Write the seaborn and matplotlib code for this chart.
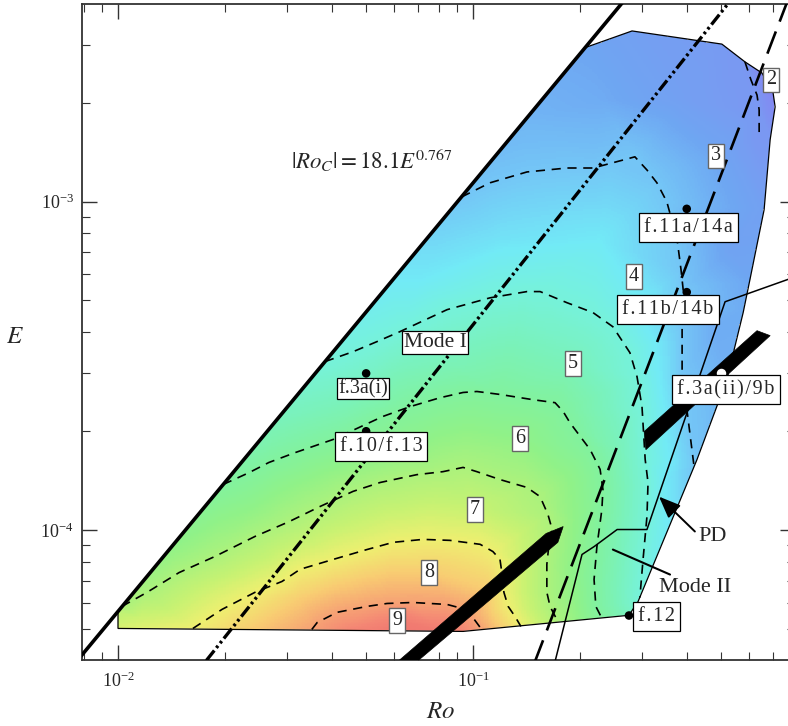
import numpy as np
import matplotlib
matplotlib.use("Agg")
import matplotlib.pyplot as plt
import matplotlib.tri as mtri
from matplotlib.patches import Polygon
from matplotlib.colors import LinearSegmentedColormap, Normalize
import seaborn as sns

# ------------------------------------------------------------------
# DATA -- stored as log10(Ro), log10(E)
# ------------------------------------------------------------------
# outline of the explored region, with the field value at each vertex
boundary_log_ro = [-2.000, -2.000, -0.685, -0.552, -0.299, -0.234, -0.186, -0.155, -0.149,
                   -0.163, -0.180, -0.220, -0.239, -0.285, -0.369, -0.535, -0.561, -1.028]
boundary_log_e = [-4.299, -4.247, -2.532, -2.481, -2.521, -2.575, -2.609, -2.667, -2.712,
                  -2.812, -3.025, -3.238, -3.338, -3.542, -3.785, -4.217, -4.259, -4.308]
boundary_value = [7.2, 6.8, 3.0, 2.8, 2.6, 2.5, 2.1, 2.0, 2.1,
                  2.5, 2.8, 3.0, 3.1, 3.2, 3.45, 4.55, 4.9, 9.0]

# dashed iso-lines (level between the numbered regions)
c23_log_ro = [-0.234, -0.217, -0.200, -0.194, -0.194]
c23_log_e = [-2.575, -2.630, -2.676, -2.721, -2.806]
c34_log_ro = [-1.032, -0.952, -0.848, -0.735, -0.662, -0.606, -0.544, -0.510, -0.482, -0.454,
              -0.425, -0.414, -0.408, -0.411, -0.411, -0.394, -0.377]
c34_log_e = [-2.986, -2.943, -2.910, -2.898, -2.898, -2.882, -2.864, -2.904, -2.943, -3.001,
             -3.116, -3.208, -3.268, -3.390, -3.521, -3.663, -3.809]
c45_log_ro = [-1.417, -1.338, -1.270, -1.206, -1.073, -0.952, -0.848, -0.811, -0.735, -0.662,
              -0.606, -0.558, -0.538, -0.524, -0.515, -0.507, -0.510, -0.521, -0.530]
c45_log_e = [-3.487, -3.457, -3.426, -3.396, -3.329, -3.293, -3.274, -3.274, -3.308, -3.338,
             -3.381, -3.460, -3.533, -3.624, -3.785, -3.855, -3.958, -4.089, -4.205]
c56_log_ro = [-1.704, -1.631, -1.575, -1.501, -1.394, -1.254, -1.177, -1.093, -1.028, -0.989,
              -0.924, -0.831, -0.769, -0.746, -0.727, -0.670, -0.642, -0.634, -0.637, -0.651,
              -0.659, -0.654, -0.637]
c56_log_e = [-3.861, -3.825, -3.794, -3.764, -3.724, -3.654, -3.624, -3.597, -3.581, -3.578,
             -3.587, -3.603, -3.612, -3.639, -3.673, -3.755, -3.815, -3.876, -3.937, -4.050,
             -4.150, -4.232, -4.268]
c67_log_ro = [-1.989, -1.918, -1.828, -1.727, -1.614, -1.518, -1.431, -1.338, -1.262, -1.158,
              -1.085, -1.028, -0.989, -0.924, -0.848, -0.811, -0.789, -0.777, -0.786, -0.792,
              -0.792, -0.783, -0.761]
c67_log_e = [-4.232, -4.189, -4.129, -4.080, -4.019, -3.974, -3.928, -3.882, -3.855, -3.831,
             -3.822, -3.809, -3.822, -3.846, -3.870, -3.898, -3.952, -3.998, -4.043, -4.104,
             -4.189, -4.232, -4.278]
c78_log_ro = [-1.789, -1.707, -1.614, -1.538, -1.487, -1.394, -1.299, -1.225, -1.141, -1.065,
              -0.980, -0.944, -0.924, -0.918, -0.913, -0.901, -0.882, -0.865]
c78_log_e = [-4.299, -4.241, -4.189, -4.156, -4.119, -4.089, -4.059, -4.037, -4.028, -4.031,
             -4.043, -4.065, -4.089, -4.135, -4.189, -4.232, -4.262, -4.293]
c89_log_ro = [-1.454, -1.439, -1.383, -1.299, -1.242, -1.169, -1.073, -1.031, -1.003, -0.977]
c89_log_e = [-4.302, -4.281, -4.250, -4.232, -4.223, -4.220, -4.226, -4.238, -4.262, -4.300]
contour_levels = [2.5, 3.5, 4.5, 5.5, 6.5, 7.5, 8.5]

# extra field samples inside the region (log Ro, log E, value)
sample_log_ro = [-0.699, -0.811, -0.924, -1.093, -1.214, -1.346, -1.628, -1.896,
                 -1.849, -1.557, -1.227, -0.852, -0.451,
                 -0.315, -0.417, -0.642, -0.811, -0.276, -0.318, -0.346,
                 -0.642, -0.924, -1.149, -0.473, -0.459,
                 -0.718, -1.065, -1.346, -0.586, -0.586,
                 -0.868, -1.206, -1.628, -0.713, -0.713,
                 -0.994, -1.346, -1.769, -0.854, -0.839, -1.938,
                 -1.124, -1.487, -0.966, -1.206]
sample_log_e = [-4.274, -4.287, -4.296, -4.308, -4.305, -4.302, -4.302, -4.299,
                -4.050, -3.670, -3.240, -2.750, -3.998,
                -2.861, -2.691, -2.691, -2.782, -3.147, -3.390, -3.663,
                -3.116, -3.116, -3.238, -3.542, -3.846,
                -3.493, -3.481, -3.603, -3.755, -4.089,
                -3.721, -3.755, -3.937, -3.967, -4.211,
                -3.937, -3.983, -4.180, -4.089, -4.241, -4.271,
                -4.129, -4.211, -4.180, -4.277]
sample_value = [6.0, 7.0, 8.0, 9.3, 9.4, 9.0, 8.0, 7.35,
                6.0, 5.0, 4.0, 3.25, 4.0,
                3.0, 2.8, 3.1, 3.3, 2.9, 3.1, 3.4,
                4.0, 3.9, 4.0, 4.0, 4.0,
                5.0, 5.0, 5.0, 5.0, 5.0,
                6.0, 6.0, 6.0, 6.0, 6.0,
                7.0, 7.0, 7.0, 7.0, 7.0, 7.1,
                8.0, 8.0, 8.0, 9.3]

# straight guide lines
roc_coef, roc_exp = 18.1, 0.767              # |Ro_c| = 18.1 E^0.767
mode1_log_ro = [-1.80, -0.25]                # dash-dot line
mode1_log_e = [-4.463, -2.355]
longdash_log_ro = [-0.861, -0.100]           # long-dashed line
longdash_log_e = [-4.50, -2.35]
mode2_log_ro = [-0.773, -0.693, -0.659, -0.594, -0.510, -0.290, -0.079]
mode2_log_e = [-4.417, -4.074, -4.050, -3.998, -3.998, -3.305, -3.224]

# black PD wedges
wedge1_log_ro = [-1.270, -1.217, -0.761, -0.746, -0.794]
wedge1_log_e = [-4.454, -4.454, -4.037, -3.989, -4.010]
wedge2_log_ro = [-0.518, -0.513, -0.163, -0.200]
wedge2_log_e = [-3.700, -3.755, -3.408, -3.393]

# marked simulations
point_names = ["f.11a/14a", "f.11b/14b", "f.3a(i)", "f.10/f.13", "f.12"]
point_spaced = [True, True, False, True, True]
point_ro = [0.40, 0.40, 0.05, 0.05, 0.275]
point_e = [9.5e-4, 5.3e-4, 3.0e-4, 2.0e-4, 5.5e-5]
point_label_log_ro = [-0.394, -0.451, -1.310, -1.259, -0.482]
point_label_log_e = [-3.080, -3.329, -3.569, -3.746, -4.262]
white_point_name = "f.3a(ii)/9b"
white_point_ro, white_point_e = 0.50, 3.0e-4
white_label_log_ro, white_label_log_e = -0.287, -3.572

# region numbers
region_names = ["2", "3", "4", "5", "6", "7", "8", "9"]
region_log_ro = [-0.161, -0.315, -0.546, -0.718, -0.868, -0.994, -1.124, -1.214]
region_log_e = [-2.630, -2.861, -3.229, -3.493, -3.721, -3.937, -4.129, -4.274]

# colours of the field
cmap_values = [2.0, 2.5, 3.0, 3.5, 4.0, 4.5, 5.0, 5.5, 6.0, 6.5, 7.0, 7.5, 8.0, 8.5, 9.0, 9.4]
cmap_colours = ["#8585f2", "#7a98f2", "#6ea6f2", "#74c6f6", "#72eaf6", "#76f2da", "#7af2ba",
                "#82f29e", "#90f288", "#acf27c", "#c8f272", "#eeef70", "#f8cc72", "#f6a274",
                "#f48674", "#f07870"]

# ------------------------------------------------------------------
sns.set_theme(style="ticks")
plt.rcParams.update({
    "font.family": ["Liberation Serif", "DejaVu Serif"],
    "mathtext.fontset": "stix",
    "xtick.direction": "in", "ytick.direction": "in",
    "xtick.top": True, "ytick.right": True,
    "xtick.minor.visible": True, "ytick.minor.visible": True,
})

fig = plt.figure(figsize=(7.88, 7.26), dpi=100)
ax = fig.add_axes([82 / 788, 66 / 726, 713 / 788, 656 / 726])
ax.set_xscale("log")
ax.set_yscale("log")
ax.set_facecolor("white")


def P(lr, le):
    return 10.0 ** np.asarray(lr, float), 10.0 ** np.asarray(le, float)


# ---- colour field -------------------------------------------------
contours = [(c23_log_ro, c23_log_e), (c34_log_ro, c34_log_e), (c45_log_ro, c45_log_e),
            (c56_log_ro, c56_log_e), (c67_log_ro, c67_log_e), (c78_log_ro, c78_log_e),
            (c89_log_ro, c89_log_e)]
flx, fly, fv = [], [], []
for (cr, ce), lev in zip(contours, contour_levels):
    flx += list(cr); fly += list(ce); fv += [lev] * len(cr)
flx += boundary_log_ro + sample_log_ro
fly += boundary_log_e + sample_log_e
fv += boundary_value + sample_value
flx, fly, fv = np.array(flx), np.array(fly), np.array(fv)
_, idx = np.unique(np.round(np.column_stack([flx, fly]), 3), axis=0, return_index=True)
idx = np.sort(idx)
flx, fly, fv = flx[idx], fly[idx], fv[idx]
tri_log = mtri.Triangulation(flx, fly)
interp = mtri.LinearTriInterpolator(tri_log, fv)
gx = np.linspace(-2.01, -0.14, 420)
gy = np.linspace(-4.32, -2.47, 420)
GX, GY = np.meshgrid(gx, gy)
GZ = interp(GX, GY)

cmap = LinearSegmentedColormap.from_list(
    "field", [((v - cmap_values[0]) / (cmap_values[-1] - cmap_values[0]), c)
              for v, c in zip(cmap_values, cmap_colours)])
cmap.set_bad((1, 1, 1, 0))
norm = Normalize(cmap_values[0], cmap_values[-1])
mesh = ax.pcolormesh(10.0 ** GX, 10.0 ** GY, GZ, shading="nearest", cmap=cmap, norm=norm,
                     zorder=1, linewidth=0, antialiased=False)

bx, by = P(boundary_log_ro, boundary_log_e)
outline = Polygon(np.column_stack([bx, by]), closed=True, fc="none", ec="black",
                  lw=0.9, zorder=2)
ax.add_patch(outline)
mesh.set_clip_path(outline)

# ---- dashed iso-lines ---------------------------------------------
for cr, ce in contours:
    x, y = P(cr, ce)
    ln, = ax.plot(x, y, color="black", lw=1.2, zorder=3)
    ln.set_dashes((5.5, 4))

# ---- guide lines --------------------------------------------------
e_line = np.logspace(-5, -2, 50)
ax.plot(roc_coef * e_line ** roc_exp, e_line, color="black", lw=2.6, zorder=4)

x, y = P(mode1_log_ro, mode1_log_e)
ln, = ax.plot(x, y, color="black", lw=2.4, zorder=4)
ln.set_dashes((3.8, 1.0, 0.8, 1.0, 0.8, 1.0))

x, y = P(longdash_log_ro, longdash_log_e)
ln, = ax.plot(x, y, color="black", lw=1.9, zorder=4)
ln.set_dashes((9, 4))

x, y = P(mode2_log_ro, mode2_log_e)
ax.plot(x, y, color="black", lw=1.1, zorder=4)

for wr, we in [(wedge1_log_ro, wedge1_log_e), (wedge2_log_ro, wedge2_log_e)]:
    x, y = P(wr, we)
    ax.add_patch(Polygon(np.column_stack([x, y]), closed=True, fc="black", ec="black",
                         lw=0.5, zorder=5))

# ---- points -------------------------------------------------------
sns.scatterplot(x=point_ro, y=point_e, ax=ax, color="black", s=38, edgecolor="none",
                zorder=6, legend=False)
ax.scatter([white_point_ro], [white_point_e], s=34, c="white", edgecolors="white",
           zorder=6)

HAIR = "\u200a"
fs = 14.5
box_wide = dict(boxstyle="square,pad=0.25", fc="white", ec="black", lw=0.9)
box_tight = dict(boxstyle="square,pad=0.04", fc="white", ec="black", lw=0.9)
box_g = dict(boxstyle="square,pad=0.14", fc="white", ec="#666666", lw=1.0)


def spaced(s):
    return HAIR.join(s)


for name, sp, lr, le in zip(point_names, point_spaced, point_label_log_ro, point_label_log_e):
    ax.text(10 ** lr, 10 ** le, spaced(name) if sp else name, ha="center", va="center",
            fontsize=fs, bbox=box_wide if sp else box_tight, zorder=7)
ax.text(10 ** white_label_log_ro, 10 ** white_label_log_e, spaced(white_point_name),
        ha="center", va="center", fontsize=fs, bbox=box_wide, zorder=7)
for name, lr, le in zip(region_names, region_log_ro, region_log_e):
    ax.text(10 ** lr, 10 ** le, name, ha="center", va="center", fontsize=fs,
            bbox=box_g, zorder=7)

ax.text(10 ** -1.107, 10 ** -3.429, "Mode I", ha="center", va="center", fontsize=15.5,
        bbox=dict(boxstyle="square,pad=0.08", fc="white", ec="black", lw=0.9), zorder=7)
ax.text(10 ** -1.285, 10 ** -2.873, r"$|Ro_C| = 18.1E^{0.767}$", ha="center",
        va="center", fontsize=16.5, zorder=7)

# PD arrow and Mode II pointer
ax.annotate("", xy=(10 ** -0.476, 10 ** -3.898), xytext=(10 ** -0.375, 10 ** -4.004),
            arrowprops=dict(arrowstyle="-|>,head_length=1.1,head_width=0.45", lw=1.4,
                            color="black", shrinkA=0, shrinkB=0), zorder=7)
ax.text(10 ** -0.324, 10 ** -4.019, "PD", ha="center", va="center", fontsize=16, zorder=7)
ax.plot([10 ** -0.606, 10 ** -0.445], [10 ** -4.059, 10 ** -4.135], color="black",
        lw=1.5, zorder=7)
ax.text(10 ** -0.375, 10 ** -4.174, "Mode II", ha="center", va="center", fontsize=16,
        zorder=7)

# ---- axes ---------------------------------------------------------
ax.set_xlim(10 ** -2.1014, 10 ** -0.093)
ax.set_ylim(10 ** -4.395, 10 ** -2.399)
ax.tick_params(which="major", length=10.5, width=1.0, color="#333333", labelsize=13,
               pad=8)
ax.tick_params(which="minor", length=6, width=0.8, color="#333333")
ax.tick_params(axis="y", which="major", pad=6)
for s in ax.spines.values():
    s.set_linewidth(1.3)
    s.set_color("#333333")
ax.set_xlabel(r"$Ro$", fontsize=18, va="center")
ax.set_ylabel(r"$E$", fontsize=18, rotation=0, va="center", ha="center")
ax.xaxis.set_label_coords(0.503, -0.079)
ax.yaxis.set_label_coords(-0.0946, 0.492)

fig.savefig("out.png", dpi=100)
